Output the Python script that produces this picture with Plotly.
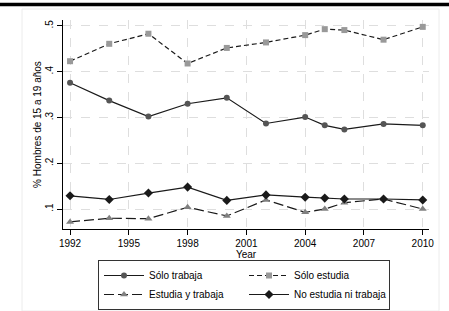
import plotly.graph_objects as go

years = [1992, 1994, 1996, 1998, 2000, 2002, 2004, 2005, 2006, 2008, 2010]
solo_trabaja = [0.376, 0.337, 0.302, 0.330, 0.343, 0.287, 0.301, 0.283, 0.274, 0.286, 0.283]
solo_estudia = [0.423, 0.461, 0.483, 0.418, 0.452, 0.464, 0.480, 0.493, 0.491, 0.470, 0.498]
estudia_trabaja = [0.072, 0.080, 0.079, 0.104, 0.085, 0.120, 0.093, 0.100, 0.114, 0.122, 0.100]
ni_ni = [0.129, 0.121, 0.135, 0.148, 0.119, 0.131, 0.126, 0.124, 0.122, 0.122, 0.120]

x_ticks = [1992, 1995, 1998, 2001, 2004, 2007, 2010]
y_ticks = [0.1, 0.2, 0.3, 0.4, 0.5]
y_tick_labels = [".1", ".2", ".3", ".4", ".5"]

W, H = 449, 311
ML, MR, MT, MB = 63, 20, 20, 82
PW, PH = W - ML - MR, H - MT - MB

def px_x(p):
    return (p - ML) / PW

def px_y(p):
    return (H - MB - p) / PH

fig = go.Figure()
fig.add_trace(go.Scatter(x=years, y=solo_trabaja, name="Sólo trabaja", mode="lines+markers",
                         line=dict(color="#1a1a1a", width=1.2),
                         marker=dict(symbol="circle", size=6, color="#555555")))
fig.add_trace(go.Scatter(x=years, y=solo_estudia, name="Sólo estudia", mode="lines+markers",
                         line=dict(color="#1a1a1a", width=1.2, dash="5px,3px"),
                         marker=dict(symbol="square", size=6, color="#999999")))
fig.add_trace(go.Scatter(x=years, y=estudia_trabaja, name="Estudia y trabaja", mode="lines+markers",
                         line=dict(color="#1a1a1a", width=1.2, dash="10px,4px"),
                         marker=dict(symbol="triangle-up", size=7, color="#808080")))
fig.add_trace(go.Scatter(x=years, y=ni_ni, name="No estudia ni trabaja", mode="lines+markers",
                         line=dict(color="#1a1a1a", width=1.2),
                         marker=dict(symbol="diamond", size=7, color="#1a1a1a")))

font = dict(family="Liberation Sans, Arial, sans-serif", size=10, color="black")

fig.update_layout(
    width=W, height=H,
    margin=dict(l=ML, r=MR, t=MT, b=MB, autoexpand=False),
    paper_bgcolor="white", plot_bgcolor="white",
    font=font,
    showlegend=True,
    legend=dict(orientation="h", x=px_x(98), y=px_y(260), xanchor="left", yanchor="top",
                bordercolor="#333333", borderwidth=1, bgcolor="white",
                entrywidth=90, entrywidthmode="pixels", itemwidth=40,
                font=font, tracegroupgap=0),
    xaxis=dict(range=[1991.64, 2010.32], tickmode="array", tickvals=x_ticks,
               ticks="outside", ticklen=5, tickcolor="black", showline=True, linecolor="black",
               linewidth=1, showgrid=True, gridcolor="#dedede", griddash="dash", gridwidth=1,
               zeroline=False, title=dict(text="Year", standoff=0, font=font), tickfont=font),
    yaxis=dict(range=[0.0565, 0.513], tickmode="array", tickvals=y_ticks, ticktext=y_tick_labels,
               tickangle=-90, ticks="outside", ticklen=5, tickcolor="black", showline=True,
               linecolor="black", linewidth=1, showgrid=True, gridcolor="#dedede", griddash="dash",
               gridwidth=1, zeroline=False,
               title=dict(text="% Hombres de 15 a 19 años", standoff=0, font=font), tickfont=font),
    shapes=[
        dict(type="rect", xref="paper", yref="paper", x0=px_x(22), x1=px_x(439), y0=px_y(311), y1=px_y(9),
             line=dict(color="#ececec", width=1), fillcolor="rgba(0,0,0,0)", layer="below"),
        dict(type="line", xref="paper", yref="paper", x0=px_x(0), x1=px_x(449), y0=px_y(4.5), y1=px_y(4.5),
             line=dict(width=3.5, color="black"), layer="above"),
    ],
)

fig.write_html("out.html", config={"displayModeBar": False},
               post_script="document.body.style.margin='0';document.body.style.overflow='hidden';")
